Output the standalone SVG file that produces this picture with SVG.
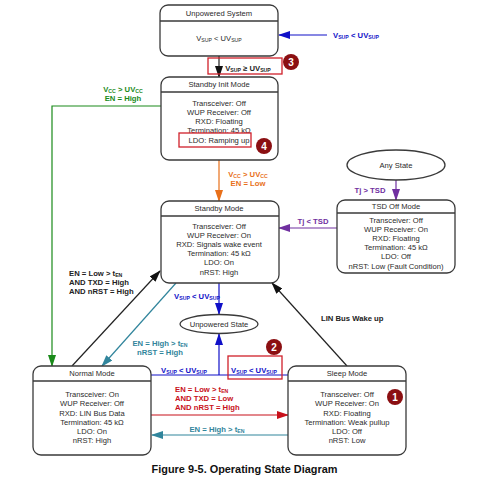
<svg xmlns="http://www.w3.org/2000/svg" width="490" height="480" viewBox="0 0 490 480">
<style>
text{font-family:"Liberation Sans",Arial,sans-serif;font-size:7.6px;fill:#2a2a2a;text-anchor:middle}
.b{font-weight:bold;font-size:7.7px}
.l{text-anchor:start}
.s{font-size:5.2px}
.box{fill:#fff;stroke:#3a3a3a;stroke-width:1.3}
.div{stroke:#3a3a3a;stroke-width:1.4;fill:none}
.c{fill:none;stroke-width:1.2}
.hl{fill:none;stroke:#d0202a;stroke-width:1.3}
.bd{fill:#8b0f12}
.bt{fill:#fff;font-size:10px;font-weight:bold}
.blue{fill:#1010c8}.green{fill:#1a8a1a}.orange{fill:#e8701a}.purple{fill:#7030a0}.teal{fill:#31859c}.red{fill:#c8101a}.blk{fill:#222}
</style>
<defs>
<marker id="ak" markerWidth="12" markerHeight="8" refX="11" refY="4" orient="auto" markerUnits="userSpaceOnUse"><path d="M0 0L12 4L0 8z" fill="#111"/></marker>
<marker id="ab" markerWidth="12" markerHeight="8" refX="11" refY="4" orient="auto" markerUnits="userSpaceOnUse"><path d="M0 0L12 4L0 8z" fill="#1010c8"/></marker>
<marker id="ag" markerWidth="12" markerHeight="8" refX="11" refY="4" orient="auto" markerUnits="userSpaceOnUse"><path d="M0 0L12 4L0 8z" fill="#1a8a1a"/></marker>
<marker id="ao" markerWidth="12" markerHeight="8" refX="11" refY="4" orient="auto" markerUnits="userSpaceOnUse"><path d="M0 0L12 4L0 8z" fill="#e8701a"/></marker>
<marker id="ap" markerWidth="12" markerHeight="8" refX="11" refY="4" orient="auto" markerUnits="userSpaceOnUse"><path d="M0 0L12 4L0 8z" fill="#7030a0"/></marker>
<marker id="at" markerWidth="12" markerHeight="8" refX="11" refY="4" orient="auto" markerUnits="userSpaceOnUse"><path d="M0 0L12 4L0 8z" fill="#31859c"/></marker>
<marker id="ar" markerWidth="12" markerHeight="8" refX="11" refY="4" orient="auto" markerUnits="userSpaceOnUse"><path d="M0 0L12 4L0 8z" fill="#c8101a"/></marker>
</defs>
<g id="connectors">
<path class="c" stroke="#1010c8" marker-end="url(#ab)" d="M327 35H279"/>
<path class="c" stroke="#222" marker-end="url(#ak)" d="M219 56V77"/>
<path class="c" stroke="#1a8a1a" marker-end="url(#ag)" d="M161 106H52V366"/>
<path class="c" stroke="#e8701a" marker-end="url(#ao)" d="M219 160V201"/>
<path class="c" stroke="#7030a0" marker-end="url(#ap)" d="M396 180V200"/>
<path class="c" stroke="#7030a0" marker-end="url(#ap)" d="M337 228H279"/>
<path class="c" stroke="#1010c8" marker-end="url(#ab)" d="M219 283V314"/>
<path class="c" stroke="#222" marker-end="url(#ak)" d="M72 366L160 271"/>
<path class="c" stroke="#31859c" marker-end="url(#at)" d="M176 283L102 366"/>
<path class="c" stroke="#1010c8" d="M151 375H288"/>
<path class="c" stroke="#1010c8" marker-end="url(#ab)" d="M219 375V334"/>
<path class="c" stroke="#c8101a" marker-end="url(#ar)" d="M151 415H288"/>
<path class="c" stroke="#31859c" marker-end="url(#at)" d="M288 435H152"/>
<path class="c" stroke="#222" marker-end="url(#ak)" d="M347 366L272 283"/>
</g>
<g id="connector-labels">
<text class="b blue l" x="333" y="38">V<tspan class="s" dy="1">SUP</tspan><tspan dy="-1"> &lt; UV</tspan><tspan class="s" dy="1">SUP</tspan></text>
<text class="b blk" x="248" y="71">V<tspan class="s" dy="1">SUP</tspan><tspan dy="-1"> ≥ UV</tspan><tspan class="s" dy="1">SUP</tspan></text>
<text class="b green" x="123" y="92">V<tspan class="s" dy="1">CC</tspan><tspan dy="-1"> &gt; UV</tspan><tspan class="s" dy="1">CC</tspan></text>
<text class="b green" x="123" y="101">EN = High</text>
<text class="b orange" x="248" y="177">V<tspan class="s" dy="1">CC</tspan><tspan dy="-1"> &gt; UV</tspan><tspan class="s" dy="1">CC</tspan></text>
<text class="b orange" x="248" y="186">EN = Low</text>
<text class="b purple" x="370" y="193">Tj &gt; TSD</text>
<text class="b purple" x="313" y="224">Tj &lt; TSD</text>
<text class="b blue" x="197" y="299">V<tspan class="s" dy="1">SUP</tspan><tspan dy="-1"> &lt; UV</tspan><tspan class="s" dy="1">SUP</tspan></text>
<text class="b blk l" x="69" y="276">EN = Low &gt; t<tspan class="s" dy="1">EN</tspan></text>
<text class="b blk l" x="69" y="285">AND TXD = High</text>
<text class="b blk l" x="69" y="294">AND nRST = High</text>
<text class="b teal" x="160" y="346">EN = High &gt; t<tspan class="s" dy="1">EN</tspan></text>
<text class="b teal" x="160" y="355">nRST = High</text>
<text class="b blue" x="184" y="373">V<tspan class="s" dy="1">SUP</tspan><tspan dy="-1"> &lt; UV</tspan><tspan class="s" dy="1">SUP</tspan></text>
<text class="b blue" x="254" y="373">V<tspan class="s" dy="1">SUP</tspan><tspan dy="-1"> &lt; UV</tspan><tspan class="s" dy="1">SUP</tspan></text>
<text class="b red l" x="175" y="392">EN = Low &gt; t<tspan class="s" dy="1">EN</tspan></text>
<text class="b red l" x="175" y="401">AND TXD = Low</text>
<text class="b red l" x="175" y="410">AND nRST = High</text>
<text class="b teal" x="217" y="432">EN = High &gt; t<tspan class="s" dy="1">EN</tspan></text>
<text class="b blk l" x="321" y="321">LIN Bus Wake up</text>
</g>
<g id="node-unpowered-system">
<rect class="box" x="160" y="5" width="118" height="51" rx="8"/><path class="div" d="M160 21H278"/>
<text x="219" y="16">Unpowered System</text>
<text x="219" y="41">V<tspan class="s" dy="1">SUP</tspan><tspan dy="-1"> &lt; UV</tspan><tspan class="s" dy="1">SUP</tspan></text>
</g>
<g id="node-standby-init">
<rect class="box" x="161" y="77" width="117" height="83" rx="8"/><path class="div" d="M161 92H278"/>
<text x="219" y="87">Standby Init Mode</text>
<text x="219" y="106">Transceiver: Off</text>
<text x="219" y="115">WUP Receiver: Off</text>
<text x="219" y="124">RXD: Floating</text>
<text x="219" y="133">Termination: 45 kΩ</text>
<text x="219" y="143">LDO: Ramping up</text>
</g>
<g id="node-standby">
<rect class="box" x="161" y="201" width="118" height="82" rx="8"/><path class="div" d="M161 216H279"/>
<text x="219" y="211">Standby Mode</text>
<text x="219" y="229">Transceiver: Off</text>
<text x="219" y="238">WUP Receiver: On</text>
<text x="219" y="247">RXD: Signals wake event</text>
<text x="219" y="256">Termination: 45 kΩ</text>
<text x="219" y="265">LDO: On</text>
<text x="219" y="275">nRST: High</text>
</g>
<g id="node-any-state">
<ellipse class="box" cx="396" cy="165" rx="49" ry="15"/>
<text x="396" y="168">Any State</text>
</g>
<g id="node-tsd-off">
<rect class="box" x="337" y="200" width="118" height="73" rx="8"/><path class="div" d="M337 213H455"/>
<text x="396" y="209">TSD Off Mode</text>
<text x="396" y="223">Transceiver: Off</text>
<text x="396" y="232">WUP Receiver: On</text>
<text x="396" y="241">RXD: Floating</text>
<text x="396" y="250">Termination: 45 kΩ</text>
<text x="396" y="259">LDO: Off</text>
<text x="396" y="269">nRST: Low (Fault Condition)</text>
</g>
<g id="node-unpowered-state">
<ellipse class="box" cx="219" cy="324" rx="39" ry="9.5"/>
<text x="219" y="327">Unpowered State</text>
</g>
<g id="node-normal">
<rect class="box" x="33" y="366" width="118" height="89" rx="8"/><path class="div" d="M33 381H151"/>
<text x="92" y="376">Normal Mode</text>
<text x="92" y="397">Transceiver: On</text>
<text x="92" y="406">WUP Receiver: Off</text>
<text x="92" y="416">RXD: LIN Bus Data</text>
<text x="92" y="425">Termination: 45 kΩ</text>
<text x="92" y="434">LDO: On</text>
<text x="92" y="443">nRST: High</text>
</g>
<g id="node-sleep">
<rect class="box" x="288" y="366" width="118" height="89" rx="8"/><path class="div" d="M288 381H406"/>
<text x="347" y="376">Sleep Mode</text>
<text x="347" y="397">Transceiver: Off</text>
<text x="347" y="406">WUP Receiver: On</text>
<text x="347" y="416">RXD: Floating</text>
<text x="347" y="425">Termination: Weak pullup</text>
<text x="347" y="434">LDO: Off</text>
<text x="347" y="443">nRST: Low</text>
</g>
<g id="callouts">
<rect class="hl" x="208" y="58" width="74" height="16"/>
<rect class="hl" x="179" y="133" width="72" height="14"/>
<rect class="hl" x="228" y="356" width="54" height="23"/>
<circle class="bd" cx="395" cy="397" r="8"/><text class="bt" x="395" y="401">1</text>
<circle class="bd" cx="274" cy="347" r="8"/><text class="bt" x="274" y="351">2</text>
<circle class="bd" cx="291" cy="62" r="8"/><text class="bt" x="291" y="66">3</text>
<circle class="bd" cx="264" cy="146" r="8"/><text class="bt" x="264" y="150">4</text>
</g>
<text x="244.500" y="473" style="font-size:10.9px;font-weight:bold;fill:#111">Figure 9-5. Operating State Diagram</text>
</svg>
